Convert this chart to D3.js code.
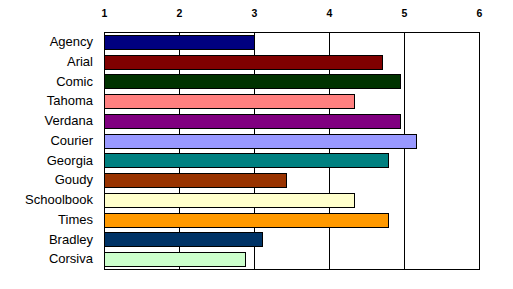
<!DOCTYPE html>
<html>
<head>
<meta charset="utf-8">
<script src="https://cdn.jsdelivr.net/npm/d3@7"></script>
<style>
	body { margin: 0; background: #fff; }
</style>
</head>
<body>
<div id="chart"></div>
<script>
'use strict';

// fonts and their scores
const fonts = ["Agency", "Arial", "Comic", "Tahoma", "Verdana", "Courier",
	"Georgia", "Goudy", "Schoolbook", "Times", "Bradley", "Corsiva"];
const scores = [3.0, 4.7, 4.95, 4.33, 4.95, 5.16, 4.78, 3.42, 4.33, 4.78, 3.1, 2.88];
const colors = ["#000080", "#800000", "#003300", "#ff8080", "#800080", "#9999ff",
	"#008080", "#993300", "#ffffcc", "#ff9900", "#003366", "#ccffcc"];
const xTicks = [1, 2, 3, 4, 5, 6];

const width = 513, height = 289;
const margin = { top: 32, right: 34, bottom: 20, left: 104 };
const innerW = width - margin.left - margin.right;
const innerH = height - margin.top - margin.bottom;

const svg = d3.select("#chart")
	.append("svg")
		.attr("width", width)
		.attr("height", height)
		.style("display", "block");

const bounds = svg.append("g")
	.attr("transform", `translate(${margin.left},${margin.top})`);

const xScale = d3.scaleLinear()
	.domain([1, 6])
	.range([0, innerW]);

const yScale = d3.scaleBand()
	.domain(fonts)
	.range([0, innerH])
	.paddingInner(0.29)
	.paddingOuter(0.145);

// gridlines
bounds.append("g")
	.selectAll("line")
	.data(xTicks.slice(1, -1))
	.join("line")
		.attr("x1", d => Math.round(xScale(d)) + 0.5)
		.attr("x2", d => Math.round(xScale(d)) + 0.5)
		.attr("y1", 0)
		.attr("y2", innerH)
		.attr("stroke", "#000")
		.attr("shape-rendering", "crispEdges");

// bars
const data = fonts.map((f, i) => ({ name: f, value: scores[i], color: colors[i] }));
bounds.append("g")
	.selectAll("rect")
	.data(data)
	.join("rect")
		.attr("x", 0.5)
		.attr("y", d => Math.round(yScale(d.name)) + 0.5)
		.attr("width", d => Math.round(xScale(d.value)))
		.attr("height", Math.round(yScale.bandwidth()))
		.attr("fill", d => d.color)
		.attr("stroke", "#000")
		.attr("stroke-width", 1)
		.attr("shape-rendering", "crispEdges");

// frame
bounds.append("rect")
	.attr("x", 0.5)
	.attr("y", 0.5)
	.attr("width", innerW)
	.attr("height", innerH)
	.attr("fill", "none")
	.attr("stroke", "#000")
	.attr("shape-rendering", "crispEdges");

// x axis on top
const xAxis = bounds.append("g")
	.call(d3.axisTop(xScale).tickValues(xTicks).tickFormat(d3.format("d")).tickSize(0).tickPadding(15));
xAxis.select(".domain").remove();
xAxis.selectAll("text")
	.attr("font-family", "Arial, 'Liberation Sans', sans-serif")
	.attr("font-size", 10.5)
	.attr("font-weight", "bold")
	.attr("fill", "#000");

// category labels
const yAxis = bounds.append("g")
	.call(d3.axisLeft(yScale).tickSize(0).tickPadding(11));
yAxis.select(".domain").remove();
yAxis.selectAll("text")
	.attr("font-family", "Arial, 'Liberation Sans', sans-serif")
	.attr("font-size", 13)
	.attr("fill", "#000");
</script>
</body>
</html>
